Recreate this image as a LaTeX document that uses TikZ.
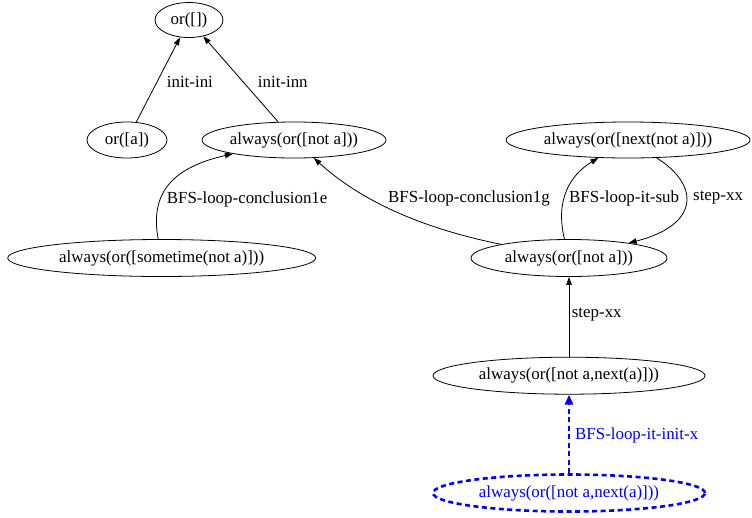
\documentclass[tikz,border=0pt]{standalone}
\usepackage{fontspec}
\setmainfont{Liberation Serif}
\usetikzlibrary{shapes.geometric,arrows.meta}
\tikzset{
  st/.style={draw, ellipse, line width=0.8pt, inner sep=0pt, font=\fontsize{16.9}{19}\selectfont},
  lbl/.style={anchor=west, inner sep=0pt, font=\fontsize{16.9}{19}\selectfont},
  edge/.style={line width=0.8pt, -{Triangle[length=8pt,width=5.5pt]}},
  initedge/.style={blue, dashed, dash pattern=on 5pt off 3.5pt, line width=2.6pt, -{Triangle[length=10pt,width=8pt]}},
}
\begin{document}
\begin{tikzpicture}[x=1pt,y=-1pt]
\useasboundingbox (0,0) rectangle (752,517);
\node[st, minimum width=68pt, minimum height=35pt] (or) at (189,20) {or([])};
\node[st, minimum width=80pt, minimum height=36pt] (oa) at (127,140) {or([a])};
\node[st, minimum width=184pt, minimum height=36pt] (la) at (294,140) {always(or([not a]))};
\node[st, minimum width=308pt, minimum height=37pt] (sa) at (161.7,258) {always(or([sometime(not a)]))};
\node[st, minimum width=244pt, minimum height=36pt] (nx) at (628,140) {always(or([next(not a)]))};
\node[st, minimum width=196pt, minimum height=37pt] (ra) at (569,258) {always(or([not a]))};
\node[st, minimum width=272pt, minimum height=37pt] (na) at (569,375.7) {always(or([not a,next(a)]))};
\node[st, minimum width=272pt, minimum height=37pt, blue, dashed, dash pattern=on 5pt off 3.5pt, line width=2.6pt] (ni) at (569,493) {always(or([not a,next(a)]))};

\draw[edge] (oa) -- (or);
\draw[edge] (la) -- (or);
\draw[edge] (sa) .. controls (150,195) and (170,168) .. (la);
\draw[edge] (ra) .. controls (420,228) and (360,200) .. (la);
\draw[edge] (ra) .. controls (555,200) and (570,175) .. (nx);
\draw[edge] (nx) .. controls (700,185) and (700,225) .. (ra);
\draw[edge] (na) -- (ra);
\draw[initedge] (ni) -- (na);

\node[lbl] (l1) at (166.7,82) {init-ini};
\node[lbl] (l2) at (257.7,82) {init-inn};
\node[lbl] (l3) at (166.7,199) {BFS-loop-conclusion1e};
\node[lbl] (l4) at (388,198) {BFS-loop-conclusion1g};
\node[lbl] (l5) at (569,198) {BFS-loop-it-sub};
\node[lbl] (l6) at (693,198) {step-xx};
\node[lbl] (l7) at (571.7,315) {step-xx};
\node[lbl, text=blue] (l8) at (575,435) {BFS-loop-it-init-x};
\end{tikzpicture}
\end{document}
